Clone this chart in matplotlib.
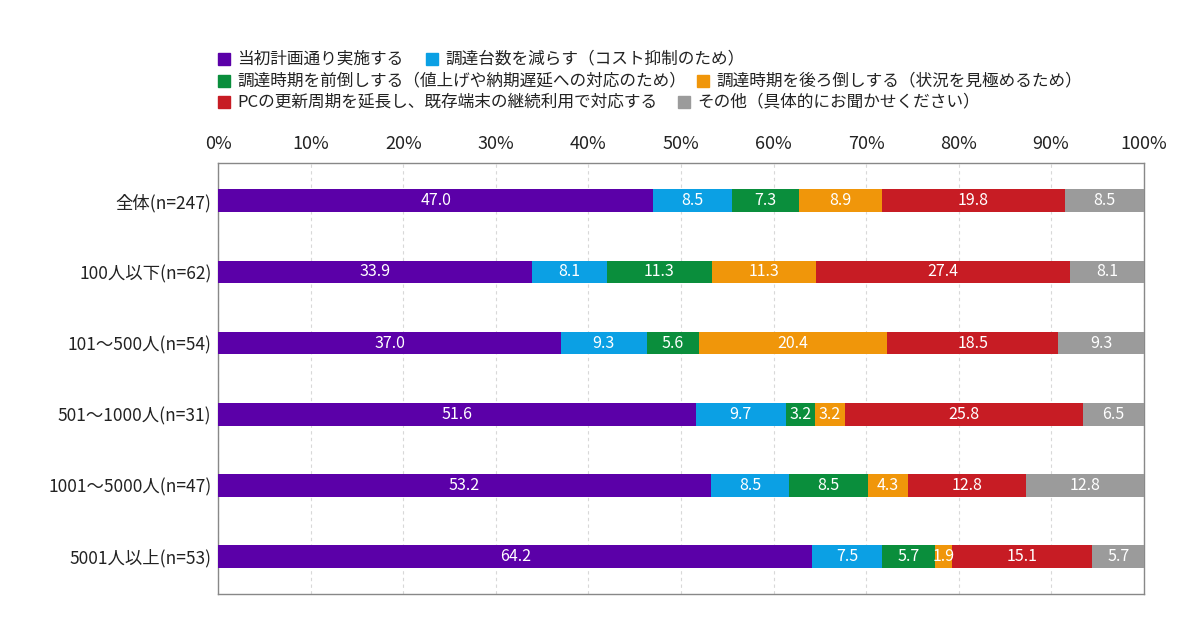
import numpy as np
import matplotlib.pyplot as plt

plt.rcParams['font.family'] = ['Noto Sans CJK JP', 'DejaVu Sans']

categories = ['全体(n=247)', '100人以下(n=62)', '101〜500人(n=54)',
              '501〜1000人(n=31)', '1001〜5000人(n=47)', '5001人以上(n=53)']
series_names = ['当初計画通り実施する', '調達台数を減らす（コスト抑制のため）',
                '調達時期を前倒しする（値上げや納期遅延への対応のため）',
                '調達時期を後ろ倒しする（状況を見極めるため）',
                'PCの更新周期を延長し、既存端末の継続利用で対応する',
                'その他（具体的にお聞かせください）']
colors = ['#5B00A8', '#0BA0E4', '#0A8E3C', '#F0960A', '#C71C24', '#9B9B9B']

plan = [47.0, 33.9, 37.0, 51.6, 53.2, 64.2]
reduce = [8.5, 8.1, 9.3, 9.7, 8.5, 7.5]
earlier = [7.3, 11.3, 5.6, 3.2, 8.5, 5.7]
later = [8.9, 11.3, 20.4, 3.2, 4.3, 1.9]
extend = [19.8, 27.4, 18.5, 25.8, 12.8, 15.1]
other = [8.5, 8.1, 9.3, 6.5, 12.8, 5.7]
series = [plan, reduce, earlier, later, extend, other]

fig = plt.figure(figsize=(12, 6.3), dpi=100)
ax = fig.add_axes([0.182, 0.057, 0.771, 0.684])

y = np.arange(len(categories))
left = np.zeros(len(categories))
for vals, col in zip(series, colors):
    vals = np.array(vals)
    ax.barh(y, vals, left=left, height=0.32, color=col, zorder=3)
    for yi, (l, v) in enumerate(zip(left, vals)):
        ax.text(l + v / 2, yi, f'{v:.1f}', ha='center', va='center',
                color='white', fontsize=11.5, zorder=4)
    left += vals

ax.set_xlim(0, 100)
ax.set_ylim(5.53, -0.53)
ax.set_yticks(y)
ax.set_yticklabels(categories, fontsize=12.5)
ax.set_xticks(np.arange(0, 101, 10))
ax.set_xticklabels([f'{t}%' for t in range(0, 101, 10)], fontsize=13)
ax.xaxis.tick_top()
ax.tick_params(length=0, colors='#222222')
ax.tick_params(axis='y', pad=5)
ax.tick_params(axis='x', pad=7)
ax.grid(axis='x', linestyle=(0, (3, 3)), color='#d8d8d8', linewidth=0.8, zorder=0)
for s in ax.spines.values():
    s.set_color('#888888')
    s.set_linewidth(1)

# legend rows (flowing layout)
rows = [[(0, 218), (1, 426)], [(2, 218), (3, 697)], [(4, 218), (5, 678)]]
row_y = [59, 81, 102]
for row, yy in zip(rows, row_y):
    for idx, xx in row:
        fig.patches.append(plt.Rectangle((xx / 1200, 1 - (yy + 6) / 630), 12 / 1200, 12 / 630,
                                         transform=fig.transFigure, color=colors[idx]))
        fig.text((xx + 19) / 1200, 1 - yy / 630, series_names[idx], fontsize=12,
                 va='center', ha='left', color='#222222')

fig.savefig('out.png', dpi=100)
